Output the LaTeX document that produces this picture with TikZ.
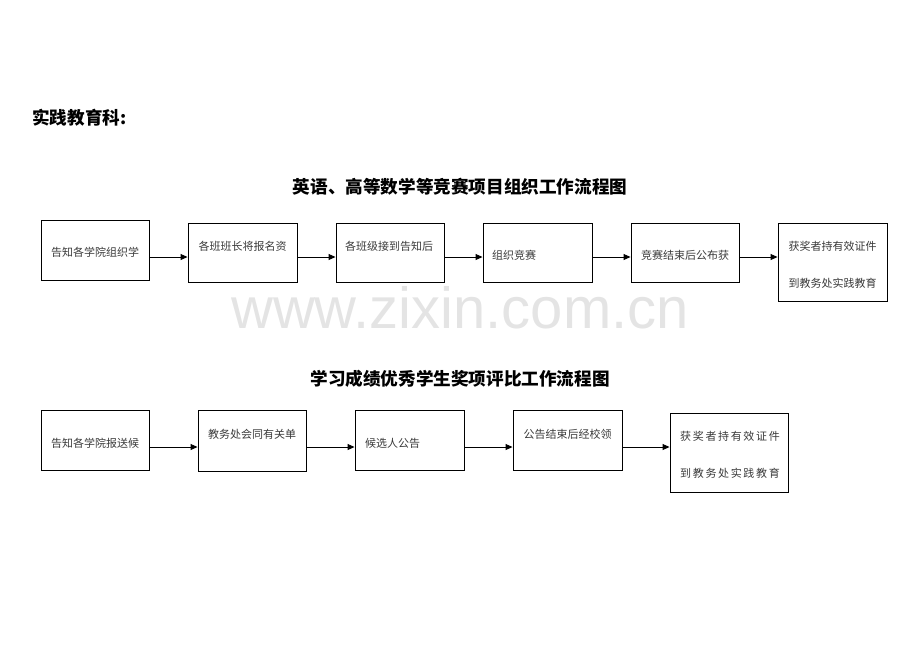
\documentclass[tikz,border=0pt]{standalone}
\usepackage{fontspec}
\newfontfamily\cjk{Noto Sans CJK SC}
\newfontfamily\cjksp[LetterSpace=15]{Noto Sans CJK SC}
\newfontfamily\wm{Liberation Sans}
\usetikzlibrary{arrows.meta}
\definecolor{txtgray}{HTML}{3A3A3A}
\definecolor{wmgray}{HTML}{E4E4E4}
\tikzset{
  box/.style={draw=black, line width=0.9pt, fill=white, inner sep=0pt},
  txt/.style={font=\cjk\fontsize{11}{13}\selectfont, text=txtgray, inner sep=0pt},
  txtsp/.style={font=\cjksp\fontsize{11}{13}\selectfont, text=txtgray, inner sep=0pt},
  ttl/.style={font=\cjk\bfseries\fontsize{17.6}{20}\selectfont, inner sep=0pt},
  arr/.style={line width=0.9pt, -{Triangle[length=7pt,width=6pt]}}
}
\begin{document}
\begin{tikzpicture}[x=1pt,y=-1pt]
\useasboundingbox (0,0) rectangle (920,651);
% watermark
\node[font=\wm\fontsize{58}{60}\selectfont, text=wmgray, inner sep=0pt] (wmk) at (460,308) {www.zixin.com.cn};
% header
\node[ttl, anchor=west] (head) at (32,118) {实践教育科:};
\node[ttl] (t1) at (460,187) {英语、高等数学等竞赛项目组织工作流程图};
\node[ttl] (t2) at (460,379) {学习成绩优秀学生奖项评比工作流程图};
% row 1 boxes
\node[box, minimum width=108, minimum height=60] (a1) at (95,250) {};
\node[box, minimum width=109, minimum height=59] (a2) at (242.5,252.5) {};
\node[box, minimum width=108, minimum height=59] (a3) at (390,252.5) {};
\node[box, minimum width=109, minimum height=59] (a4) at (537.5,252.5) {};
\node[box, minimum width=108, minimum height=59] (a5) at (685,252.5) {};
\node[box, minimum width=109, minimum height=78] (a6) at (832.5,262) {};
\node[txt] (a1t) at (95,252) {告知各学院组织学};
\node[txt] (a2t) at (242.5,246) {各班班长将报名资};
\node[txt, anchor=west] (a3t) at (345,246) {各班级接到告知后};
\node[txt, anchor=west] (a4t) at (492,255) {组织竞赛};
\node[txt] (a5t) at (685,255) {竞赛结束后公布获};
\node[txt] (a6t) at (832.5,246) {获奖者持有效证件};
\node[txt] (a6u) at (832.5,283) {到教务处实践教育};
\coordinate (r1) at (0,257);
\draw[arr] (a1.east |- r1) -- (a2.west |- r1);
\draw[arr] (a2.east |- r1) -- (a3.west |- r1);
\draw[arr] (a3.east |- r1) -- (a4.west |- r1);
\draw[arr] (a4.east |- r1) -- (a5.west |- r1);
\draw[arr] (a5.east |- r1) -- (a6.west |- r1);
% row 2 boxes
\node[box, minimum width=108, minimum height=60] (b1) at (95,440) {};
\node[box, minimum width=108, minimum height=61] (b2) at (252,440.5) {};
\node[box, minimum width=109, minimum height=60] (b3) at (409.5,440) {};
\node[box, minimum width=109, minimum height=60] (b4) at (567.5,440) {};
\node[box, minimum width=118, minimum height=79] (b5) at (729,452.5) {};
\node[txt] (b1t) at (95,443) {告知各学院报送候};
\node[txt] (b2t) at (252,434) {教务处会同有关单};
\node[txt, anchor=west] (b3t) at (365,443) {候选人公告};
\node[txt] (b4t) at (567.5,434) {公告结束后经校领};
\node[txtsp] (b5t) at (730,436) {获奖者持有效证件};
\node[txtsp] (b5u) at (730,473) {到教务处实践教育};
\coordinate (r2) at (0,447);
\draw[arr] (b1.east |- r2) -- (b2.west |- r2);
\draw[arr] (b2.east |- r2) -- (b3.west |- r2);
\draw[arr] (b3.east |- r2) -- (b4.west |- r2);
\draw[arr] (b4.east |- r2) -- (b5.west |- r2);
\end{tikzpicture}
\end{document}
